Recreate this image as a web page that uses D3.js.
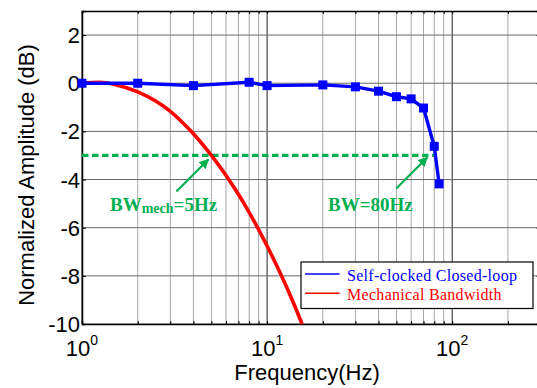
<!DOCTYPE html>
<html>
<head>
<meta charset="utf-8">
<script src="https://cdn.jsdelivr.net/npm/d3@7"></script>
<style>
  html, body { margin: 0; padding: 0; background: #fff; }
  #chart { width: 537px; height: 388px; overflow: hidden; }
</style>
</head>
<body>
<div id="chart"></div>
<script>
// measured points (Hz, dB)
const loopFreq = [1, 2, 4, 8, 10, 20, 30, 40, 50, 60, 70, 80, 85];
const loopAmp = [0, 0, -0.1, 0.04, -0.1, -0.07, -0.15, -0.33, -0.56, -0.65, -1.03, -2.62, -4.18];

const mechFreq = [1, 1.25, 1.5, 2, 2.5, 3, 3.5, 4, 5, 6, 7, 8, 9, 10, 12, 14, 15.45];
const mechAmp = [0, 0.04, -0.05, -0.36, -0.74, -1.17, -1.64, -2.1, -3.0, -3.83, -4.61, -5.36, -6.08, -6.76, -8.02, -9.19, -10];

const freqTicks = [1, 2, 3, 4, 5, 6, 7, 8, 9, 10, 20, 30, 40, 50, 60, 70, 80, 90, 100, 200, 300];
const decadeTicks = [1, 10, 100];
const ampTicks = [2, 0, -2, -4, -6, -8, -10];
const legendLabels = ["Self-clocked Closed-loop", "Mechanical Bandwidth"];
const bwLevel = -3;
const bwMech = 5;
const bwLoop = 80;

const margin = { top: 11, right: -3.5, bottom: 64, left: 82 };
const width = 537 - margin.left - margin.right;
const height = 388 - margin.top - margin.bottom;

const green = "#00b050";

const svg = d3.select("#chart")
    .append("svg")
    .attr("width", 537)
    .attr("height", 388)
    .style("overflow", "hidden");

const g = svg.append("g")
    .attr("transform", `translate(${margin.left},${margin.top})`);

const xScale = d3.scaleLog()
    .domain([1, 300])
    .range([0, width]);

const yScale = d3.scaleLinear()
    .domain([-10, 3])
    .range([height, 0]);

// grid
g.append("g").selectAll("line")
    .data(freqTicks)
    .join("line")
    .attr("x1", d => xScale(d)).attr("x2", d => xScale(d))
    .attr("y1", 0).attr("y2", height)
    .attr("stroke", d => decadeTicks.includes(d) ? "#222" : "#a8a8a8")
    .attr("stroke-width", 1);

g.append("g").selectAll("line")
    .data(ampTicks)
    .join("line")
    .attr("x1", 0).attr("x2", width)
    .attr("y1", d => yScale(d)).attr("y2", d => yScale(d))
    .attr("stroke", "#6a6a6a")
    .attr("stroke-width", 1);

// axes with inward ticks
const xAxis = d3.axisBottom(xScale).tickValues(freqTicks).tickSize(-3).tickFormat("");
const xAxisTop = d3.axisTop(xScale).tickValues(freqTicks).tickSize(-3).tickFormat("");
const yAxis = d3.axisLeft(yScale).tickValues(ampTicks).tickSize(-4).tickFormat("");
const yAxisRight = d3.axisRight(yScale).tickValues(ampTicks).tickSize(-4).tickFormat("");

g.append("g").attr("transform", `translate(0,${height})`).call(xAxis);
g.append("g").call(xAxisTop);
g.append("g").call(yAxis);
g.append("g").attr("transform", `translate(${width},0)`).call(yAxisRight);

g.selectAll(".domain").attr("stroke", "#000").attr("stroke-width", 1.5);
g.selectAll(".tick line").attr("stroke", "#000");

// tick labels
g.append("g").selectAll("text")
    .data(ampTicks)
    .join("text")
    .attr("x", -2)
    .attr("y", d => yScale(d) + 8)
    .attr("text-anchor", "end")
    .style("font", "22px 'Liberation Sans', Arial, sans-serif")
    .text(d => d);

const decLabels = g.append("g").selectAll("text")
    .data(decadeTicks)
    .join("text")
    .attr("x", d => xScale(d))
    .attr("y", height + 32)
    .attr("text-anchor", "middle")
    .style("font", "22px 'Liberation Sans', Arial, sans-serif");
decLabels.append("tspan").text("10");
decLabels.append("tspan")
    .attr("dy", -11)
    .style("font-size", "14px")
    .text(d => Math.round(Math.log10(d)));

// axis titles
svg.append("text")
    .attr("x", 307)
    .attr("y", 380)
    .attr("text-anchor", "middle")
    .style("font", "22px 'Liberation Sans', Arial, sans-serif")
    .text("Frequency(Hz)");

svg.append("text")
    .attr("transform", "translate(34,175) rotate(-90)")
    .attr("text-anchor", "middle")
    .style("font", "22px 'Liberation Sans', Arial, sans-serif")
    .text("Normalized Amplitude (dB)");

// curves
const line = d3.line()
    .x(d => xScale(d[0]))
    .y(d => yScale(d[1]));

svg.append("clipPath").attr("id", "plot-clip")
    .append("rect").attr("x", -2).attr("y", -2).attr("width", width + 4).attr("height", height + 4);

const plot = g.append("g").attr("clip-path", "url(#plot-clip)");

// -3 dB line
plot.append("line")
    .attr("x1", xScale(1)).attr("x2", xScale(bwLoop))
    .attr("y1", yScale(bwLevel)).attr("y2", yScale(bwLevel))
    .attr("stroke", green)
    .attr("stroke-width", 3.2)
    .attr("stroke-dasharray", "6.5,3.5");

const mechData = mechFreq.map((f, i) => [f, mechAmp[i]]);
plot.append("path")
    .datum(mechData)
    .attr("fill", "none")
    .attr("stroke", "#ff0000")
    .attr("stroke-width", 3.6)
    .attr("d", line.curve(d3.curveMonotoneX));

const loopData = loopFreq.map((f, i) => [f, loopAmp[i]]);
g.append("path")
    .datum(loopData)
    .attr("fill", "none")
    .attr("stroke", "#0000ff")
    .attr("stroke-width", 3.4)
    .attr("d", line.curve(d3.curveLinear));

g.append("g").selectAll("rect")
    .data(loopData)
    .join("rect")
    .attr("x", d => xScale(d[0]) - 4.5)
    .attr("y", d => yScale(d[1]) - 4.5)
    .attr("width", 9)
    .attr("height", 9)
    .attr("fill", "#0000ff");

// annotations
const defs = svg.append("defs");
defs.append("marker")
    .attr("id", "arrow")
    .attr("viewBox", "0 0 10 10")
    .attr("refX", 9).attr("refY", 5)
    .attr("markerWidth", 4.5).attr("markerHeight", 4.5)
    .attr("orient", "auto")
    .append("path")
    .attr("d", "M0,0 L10,5 L0,10 z")
    .attr("fill", green);

const arrows = [
    { x1: xScale(bwMech) - 35, y1: yScale(bwLevel) + 36, x2: xScale(bwMech) - 3, y2: yScale(bwLevel) + 4 },
    { x1: xScale(bwLoop) - 38, y1: yScale(bwLevel) + 33, x2: xScale(bwLoop) - 7, y2: yScale(bwLevel) + 2 }
];
g.append("g").selectAll("line")
    .data(arrows)
    .join("line")
    .attr("x1", d => d.x1).attr("y1", d => d.y1)
    .attr("x2", d => d.x2).attr("y2", d => d.y2)
    .attr("stroke", green)
    .attr("stroke-width", 2.2)
    .attr("marker-end", "url(#arrow)");

const annFont = "bold 19px 'Liberation Serif', 'Times New Roman', serif";
const mechLabel = svg.append("text")
    .attr("x", 110)
    .attr("y", 211)
    .attr("fill", green)
    .style("font", annFont);
mechLabel.append("tspan").text("BW");
mechLabel.append("tspan").attr("dy", 1.5).style("font-size", "14px").text("mech");
mechLabel.append("tspan").attr("dy", -1.5).text("=5Hz");

svg.append("text")
    .attr("x", 328)
    .attr("y", 211)
    .attr("fill", green)
    .style("font", annFont)
    .text("BW=80Hz");

// legend
const legend = svg.append("g").attr("transform", "translate(301,262)");
legend.append("rect")
    .attr("width", 232)
    .attr("height", 46.5)
    .attr("fill", "#fff")
    .attr("stroke", "#000")
    .attr("stroke-width", 1.2);

const legendColors = ["#0000ff", "#ff0000"];
const legendRows = legend.selectAll("g.row")
    .data(legendLabels)
    .join("g")
    .attr("class", "row")
    .attr("transform", (d, i) => `translate(0,${12 + i * 19.3})`);

legendRows.append("line")
    .attr("x1", 4).attr("x2", 38.5)
    .attr("y1", 0).attr("y2", 0)
    .attr("stroke", (d, i) => legendColors[i])
    .attr("stroke-width", 1.5);

legendRows.append("text")
    .attr("x", 46)
    .attr("y", 6.5)
    .attr("fill", (d, i) => legendColors[i])
    .style("font", "16px 'Liberation Serif', 'Times New Roman', serif")
    .style("letter-spacing", "0.3px")
    .text(d => d);
</script>
</body>
</html>
